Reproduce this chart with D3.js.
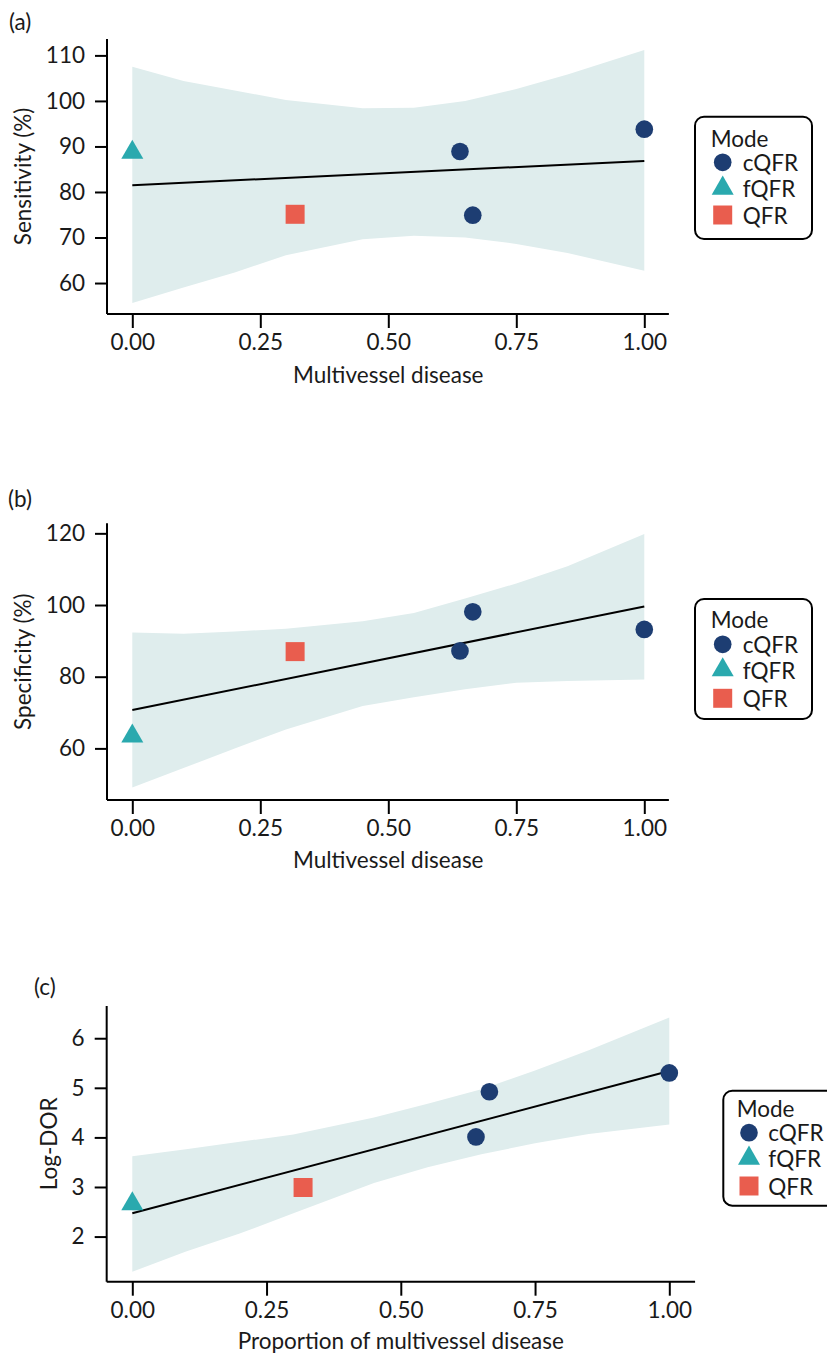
<!DOCTYPE html>
<html><head><meta charset="utf-8">
<script src="https://cdn.jsdelivr.net/npm/d3@7"></script>
<style>
body{margin:0;background:#fff;}
text{font-family:Lato,"Open Sans",sans-serif;fill:#1a1a1a;}
</style></head>
<body><svg id="c" width="827" height="1356"></svg>
<script>
// ---------- data ----------
const modes = ["cQFR","fQFR","QFR"];
const cqfrX = [0.64, 0.665, 1.0];
const fqfrX = [0];
const qfrX = [0.318];

const sensCQFR = [88.9, 74.9, 93.8];
const sensFQFR = [88.7];
const sensQFR = [75.1];
const specCQFR = [87.2, 98.1, 93.2];
const specFQFR = [63.4];
const specQFR = [87.0];
const ldorCQFR = [4.01, 4.92, 5.30];
const ldorFQFR = [2.66];
const ldorQFR = [2.99];

const fitX = [0, 1];
const sensFit = [81.5, 86.8];
const specFit = [70.7, 99.6];
const ldorFit = [2.47, 5.34];

const bandX = [0, 0.1, 0.2, 0.3, 0.45, 0.55, 0.65, 0.75, 0.85, 1.0];
const sensUpper = [107.5, 104.4, 102.3, 100.2, 98.4, 98.5, 100.0, 102.6, 105.8, 111.2];
const sensLower = [55.6, 59.0, 62.3, 66.1, 69.6, 70.4, 70.0, 68.6, 66.6, 62.7];
const specUpper = [92.3, 92.0, 92.6, 93.4, 95.5, 97.8, 101.8, 106.0, 110.8, 119.8];
const specLower = [49.1, 54.5, 60.0, 65.3, 71.8, 74.3, 76.5, 78.3, 78.8, 79.2];
const ldorUpper = [3.62, 3.76, 3.91, 4.06, 4.40, 4.68, 4.97, 5.35, 5.76, 6.42];
const ldorLower = [1.29, 1.70, 2.06, 2.47, 3.08, 3.40, 3.66, 3.88, 4.07, 4.26];

const xTicks = [0, 0.25, 0.5, 0.75, 1.0];
const sensTicks = [60, 70, 80, 90, 100, 110];
const specTicks = [60, 80, 100, 120];
const ldorTicks = [2, 3, 4, 5, 6];

// ---------- styling ----------
const colors = {cQFR:"#1d3d72", fQFR:"#2aa9ae", QFR:"#e95d4e"};
const bandColor = "#dfeded";
const FS = 22.5;
const svg = d3.select("#c");

const panels = [
  {tag:"(a)", tagX:9, tagY:30, ytitle:"Sensitivity (%)", ytitleX:22, xtitle:"Multivessel disease", xtitleY:383,
   xr:[132.3,644.3], xd:[-0.0494,1.048], yr:[314,39], yd:[53.2,113.6], yTicks:sensTicks,
   c:sensCQFR, f:sensFQFR, q:sensQFR, fit:sensFit, up:sensUpper, lo:sensLower,
   leg:{x:695, y:116.7, w:117, h:122.3, modeX:710.7, modeY:146.7, symX:722.7, textX:742.7, rows:[162.3,188.3,215]}},
  {tag:"(b)", tagX:8, tagY:507, ytitle:"Specificity (%)", ytitleX:22, xtitle:"Multivessel disease", xtitleY:868,
   xr:[132.3,644.3], xd:[-0.0494,1.048], yr:[800,523.3], yd:[45.6,122.8], yTicks:specTicks,
   c:specCQFR, f:specFQFR, q:specQFR, fit:specFit, up:specUpper, lo:specLower,
   leg:{x:695, y:599, w:117, h:120, modeX:710.7, modeY:628, symX:722.7, textX:742.7, rows:[644.3,670,698.3]}},
  {tag:"(c)", tagX:34, tagY:995, ytitle:"Log-DOR", ytitleX:48, xtitle:"Proportion of multivessel disease", xtitleY:1349,
   xr:[132.3,669.3], xd:[-0.0477,1.048], yr:[1281.7,1006], yd:[1.09,6.65], yTicks:ldorTicks,
   c:ldorCQFR, f:ldorFQFR, q:ldorQFR, fit:ldorFit, up:ldorUpper, lo:ldorLower,
   leg:{x:723.3, y:1090.7, w:117, h:115, modeX:736.7, modeY:1116.7, symX:749, textX:768.3, rows:[1132.7,1158.3,1186]}}
];

const symType = {cQFR:d3.symbolCircle, fQFR:d3.symbolTriangle, QFR:d3.symbolSquare};
const symArea = {cQFR:245, fQFR:210, QFR:361};
const sym = m => d3.symbol().type(symType[m]).size(symArea[m])();

panels.forEach(p => {
  const x0 = p.xr[0] + (p.xd[0]) * (p.xr[1]-p.xr[0]);
  const x1 = p.xr[0] + (p.xd[1]) * (p.xr[1]-p.xr[0]);
  const x = d3.scaleLinear().domain(p.xd).range([x0, x1]);
  const y = d3.scaleLinear().domain(p.yd).range(p.yr);
  const g = svg.append("g");

  // band
  const bandData = bandX.map((bx,i)=>({x:bx, u:p.up[i], l:p.lo[i]}));
  g.append("path").datum(bandData)
    .attr("d", d3.area().x(d=>x(d.x)).y0(d=>y(d.l)).y1(d=>y(d.u)))
    .attr("fill", bandColor);

  // fit line
  g.append("path").datum(fitX.map((fx,i)=>({x:fx, y:p.fit[i]})))
    .attr("d", d3.line().x(d=>x(d.x)).y(d=>y(d.y)))
    .attr("stroke","#000").attr("stroke-width",2).attr("fill","none");

  // points
  const pts = [];
  cqfrX.forEach((v,i)=>pts.push({m:"cQFR", x:v, y:p.c[i]}));
  fqfrX.forEach((v,i)=>pts.push({m:"fQFR", x:v, y:p.f[i]}));
  qfrX.forEach((v,i)=>pts.push({m:"QFR", x:v, y:p.q[i]}));
  g.selectAll(".pt").data(pts).join("path")
    .attr("transform", d=>`translate(${x(d.x)},${y(d.y)})`)
    .attr("d", d=>sym(d.m)).attr("fill", d=>colors[d.m]);

  // axes
  const xAxis = g.append("g").attr("transform",`translate(0,${p.yr[0]})`)
    .call(d3.axisBottom(x).tickValues(xTicks).tickFormat(d3.format(".2f")).tickSize(14).tickSizeOuter(0).tickPadding(6));
  const yAxis = g.append("g").attr("transform",`translate(${x0},0)`)
    .call(d3.axisLeft(y).tickValues(p.yTicks).tickFormat(d3.format("d")).tickSize(12).tickSizeOuter(0).tickPadding(10));
  [xAxis,yAxis].forEach(a=>{
    a.selectAll("path,line").attr("stroke","#000").attr("stroke-width",2);
    a.selectAll("text").attr("font-size",FS).attr("fill","#1a1a1a").style("font-family","Lato");
  });
  xAxis.select(".domain").attr("d", `M${x0},0H${x1}`);
  yAxis.select(".domain").attr("d", `M0,${p.yr[0]}V${p.yr[1]}`);

  // titles
  g.append("text").attr("x", p.tagX).attr("y", p.tagY).attr("font-size",FS).text(p.tag);
  g.append("text").attr("x", (p.xr[0]+p.xr[1])/2).attr("y", p.xtitleY)
    .attr("text-anchor","middle").attr("font-size",FS).text(p.xtitle);
  g.append("text").attr("transform",`translate(${p.ytitleX},${(p.yr[0]+p.yr[1])/2}) rotate(-90)`)
    .attr("text-anchor","middle").attr("dominant-baseline","central").attr("font-size",FS).text(p.ytitle);

  // legend
  const L = p.leg;
  g.append("rect").attr("x",L.x).attr("y",L.y).attr("width",L.w).attr("height",L.h)
    .attr("rx",9).attr("fill","#fff").attr("stroke","#000").attr("stroke-width",2);
  g.append("text").attr("x",L.modeX).attr("y",L.modeY).attr("font-size",FS).text("Mode");
  modes.forEach((m,i)=>{
    g.append("path").attr("transform",`translate(${L.symX},${L.rows[i]})`).attr("d",sym(m)).attr("fill",colors[m]);
    g.append("text").attr("x",L.textX).attr("y",L.rows[i]).attr("dominant-baseline","central")
      .attr("font-size",FS).text(m);
  });
});
</script></body></html>
